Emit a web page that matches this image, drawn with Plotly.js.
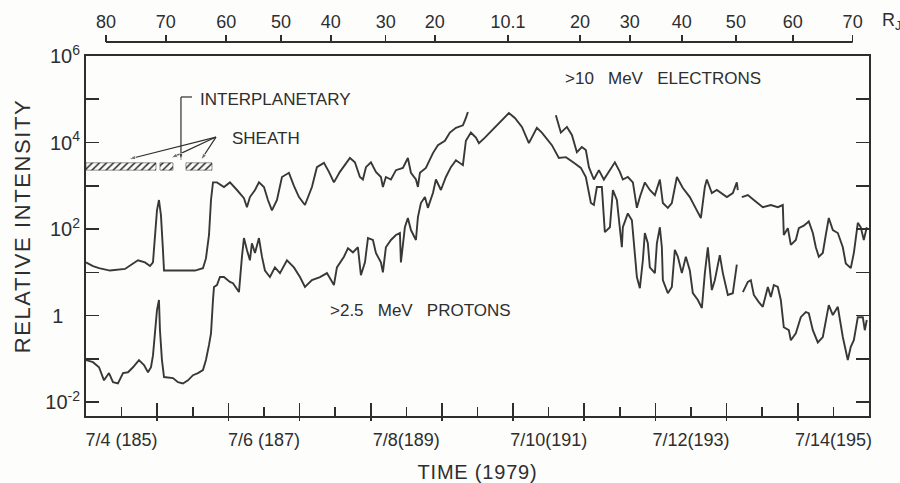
<!DOCTYPE html>
<html>
<head>
<meta charset="utf-8">
<script src="https://cdn.plot.ly/plotly-3.0.1.min.js"></script>
<style>
  html, body { margin: 0; padding: 0; background: #fdfdfc; }
  #chart { width: 900px; height: 483px; }
  text.ytitle { letter-spacing: 1.6px; translate: 0 -10px; }
  text.xtitle { letter-spacing: 0.8px; }
</style>
</head>
<body>
<div id="chart"></div>
<script>
// Time is decimal day-of-year 1979 (185.0 = 7/4 00:00).

// >10 MeV electrons (relative intensity); null marks a data gap
const electronTime = [
  185.000,185.098,185.183,185.337,185.548,185.660,185.730,185.829,185.899,185.941,
  185.969,185.997,186.025,186.053,186.081,186.096,186.320,186.531,186.643,186.685,
  186.728,186.756,186.784,186.840,186.938,187.022,187.121,187.219,187.261,187.303,
  187.374,187.430,187.500,187.556,187.612,187.683,187.753,187.851,187.921,187.992,
  188.076,188.174,188.244,188.343,188.413,188.483,188.567,188.666,188.708,188.778,
  188.848,188.890,188.933,189.003,189.073,189.143,189.171,189.213,189.284,189.354,
  189.452,189.522,189.565,189.635,189.663,189.691,189.775,189.874,189.944,190.042,
  190.112,190.197,190.295,190.337,190.365,
  191.000,
  191.601,191.671,191.756,191.826,191.896,191.966,192.022,192.065,192.135,192.205,
  192.275,192.317,192.360,192.430,192.500,192.542,192.612,192.683,192.739,192.781,
  192.851,192.921,192.992,193.062,193.104,193.174,193.230,193.301,193.385,193.483,
  193.581,193.638,193.694,193.722,193.792,193.862,194.003,194.087,194.143,194.157,
  194.185,
  194.213,194.298,194.382,194.508,194.621,194.719,194.789,194.803,194.860,194.902,
  194.972,195.014,195.084,195.154,195.211,195.253,195.295,195.351,195.393,195.435,
  195.492,195.562,195.632,195.674,195.744,195.787,195.843,195.885,195.927,195.969
];
const electronFlux = [
  1.7e1,1.4e1,1.25e1,1.1e1,1.2e1,1.6e1,1.9e1,1.7e1,1.4e1,1.7e1,
  5.6e1,2.7e2,4.7e2,2.1e2,3.3e1,1.1e1,1.1e1,1.1e1,1.25e1,2.1e1,
  7.3e1,4.7e2,1.2e3,1.2e3,9.4e2,1.2e3,8.0e2,5.2e2,3.2e2,5.5e2,
  8.0e2,1.2e3,9.4e2,4.7e2,2.7e2,4.7e2,1.6e3,2.0e3,1.0e3,5.5e2,
  3.6e2,9.4e2,2.7e3,3.4e3,2.1e3,1.2e3,2.1e3,3.5e3,4.4e3,3.5e3,
  1.6e3,1.4e3,2.7e3,3.5e3,2.1e3,1.6e3,9.4e2,1.6e3,1.4e3,2.3e3,
  2.6e3,4.4e3,2.0e3,1.4e3,9.4e2,2.0e3,2.6e3,5.7e3,8.7e3,1.1e4,
  1.7e4,2.2e4,2.5e4,3.7e4,5.1e4,
  null,
  4.3e4,1.7e4,2.3e4,1.5e4,6.0e3,7.9e3,6.7e3,2.7e3,1.4e3,2.3e3,
  1.4e3,1.8e3,2.3e3,3.5e3,2.1e3,1.4e3,1.6e3,1.2e3,3.1e2,5.5e2,
  1.2e3,8.0e2,6.1e2,1.4e3,4.0e2,3.1e2,4.0e2,1.6e3,8.9e2,5.5e2,
  2.7e2,1.8e2,9.4e2,1.4e3,6.8e2,8.0e2,5.5e2,6.8e2,1.2e3,8.0e2,
  null,
  5.5e2,6.1e2,4.7e2,3.2e2,3.6e2,3.2e2,3.6e2,7.3e1,1.05e2,4.3e1,
  5.6e1,1.05e2,1.2e2,1.5e2,8.1e1,3.8e1,2.3e1,2.8e1,7.3e1,1.8e2,
  9.5e1,8.1e1,3.8e1,1.6e1,1.25e1,2.8e1,1.4e2,1.1e2,5.6e1,1.1e2
];

// >2.5 MeV protons (relative intensity)
const protonTime = [
  185.000,185.098,185.183,185.253,185.323,185.379,185.449,185.520,185.590,185.660,
  185.744,185.815,185.871,185.913,185.941,185.969,185.997,186.025,186.039,186.067,
  186.096,186.222,186.292,186.362,186.433,186.503,186.573,186.643,186.685,186.728,
  186.756,186.784,186.798,186.840,186.882,186.938,187.022,187.065,187.149,187.191,
  187.219,187.261,187.303,187.331,187.374,187.430,187.472,187.514,187.584,187.654,
  187.725,187.823,187.921,188.006,188.076,188.174,188.287,188.385,188.483,188.525,
  188.624,188.680,188.750,188.820,188.862,188.919,188.961,189.031,189.073,189.143,
  189.171,189.213,189.284,189.354,189.410,189.424,189.480,189.522,189.565,189.635,
  189.663,189.705,189.761,189.803,189.874,189.916,189.986,190.056,190.126,190.197,
  190.295,190.337,190.407,190.478,190.520,190.604,190.674,190.744,190.815,190.885,
  190.941,191.025,191.124,191.222,191.278,191.334,191.404,191.461,191.545,191.643,
  191.742,191.854,191.952,192.022,192.093,192.135,192.177,192.247,192.289,192.360,
  192.402,192.458,192.500,192.528,192.542,192.612,192.669,192.711,192.739,192.781,
  192.823,192.851,192.893,192.921,192.992,193.020,193.062,193.090,193.104,193.174,
  193.230,193.272,193.315,193.371,193.427,193.483,193.525,193.596,193.652,193.694,
  193.736,193.792,193.834,193.904,193.947,194.017,194.087,194.143,
  194.185,
  194.228,194.298,194.340,194.382,194.452,194.508,194.579,194.621,194.663,194.719,
  194.761,194.803,194.874,194.902,194.972,195.042,195.112,195.154,195.211,195.281,
  195.351,195.393,195.435,195.492,195.562,195.632,195.702,195.744,195.787,195.843,
  195.913,195.941,195.969
];
const protonFlux = [
  0.094,0.084,0.064,0.032,0.047,0.029,0.027,0.047,0.049,0.064,
  0.094,0.072,0.049,0.064,0.12,0.35,1.34,2.3,0.46,0.094,
  0.038,0.036,0.029,0.027,0.032,0.042,0.047,0.055,0.094,0.21,
  0.39,2.3,4.6,5.1,7.8,7.8,6.0,5.6,3.5,2.3e1,
  6.2e1,3.3e1,1.9e1,4.7e1,2.8e1,6.2e1,2.3e1,1.1e1,7.8,1.3e1,
  9.6,1.9e1,1.3e1,7.8,4.6,6.6,7.8,9.6,5.1,1.3e1,
  2.3e1,3.6e1,2.9e1,3.8e1,8.6,1.7e1,6.2e1,5.6e1,2.8e1,1.7e1,
  1.0e1,3.8e1,5.6e1,7.3e1,8.1e1,1.7e1,1.1e2,1.8e2,9.5e1,5.6e1,
  1.9e2,4.0e2,5.5e2,3.1e2,6.8e2,1.4e3,8.0e2,1.6e3,2.7e3,3.9e3,
  3.0e3,1.1e4,1.7e4,1.3e4,9.7e3,1.3e4,1.7e4,2.2e4,3.0e4,3.9e4,
  4.8e4,3.7e4,2.3e4,9.7e3,1.5e4,2.2e4,1.7e4,1.3e4,8.7e3,4.4e3,
  4.6e3,3.4e3,2.6e3,1.6e3,4.0e2,3.6e2,9.4e2,9.4e2,8.5e1,1.1e2,
  8.0e2,4.7e2,8.1e1,3.8e1,1.1e2,2.3e2,1.6e2,3.3e1,7.8,4.3,
  1.9e1,8.1e1,4.7e1,1.3e1,9.6,4.7e1,1.1e2,3.8e1,6.6,3.3,
  4.6,3.3e1,2.3e1,9.6,2.3e1,1.1e1,3.3,2.3,1.5,9.6,
  3.8e1,3.9,6.6,2.5e1,9.6,3.0,3.3,1.5e1,
  null,
  3.5,6.0,6.6,3.0,2.05,1.6,4.6,2.7,5.1,4.6,
  2.3,0.54,0.46,0.27,0.39,0.92,1.2,1.14,0.46,0.24,
  0.32,0.79,1.75,1.03,1.6,0.32,0.094,0.19,0.27,0.92,
  0.92,0.46,0.79
];

// magnetosheath intervals (hatched bar) and its vertical extent
const sheathStart = [185.000, 186.039, 186.404];
const sheathEnd   = [185.983, 186.222, 186.770];
const sheathLow = 2.3e3, sheathHigh = 3.4e3;

// pointer lines from the SHEATH / INTERPLANETARY labels (tail, head pairs)
const pointerX = [186.826, 185.604, null, 186.826, 186.194, null, 186.826, 186.615, null,
                  186.489, 186.334, 186.334];
const pointerY = [1.34e4, 4.15e3, null, 1.34e4, 4.39e3, null, 1.34e4, 3.94e3, null,
                  1.13e5, 1.13e5, 3.94e3];
const pointerHead = [0, 7, 0, 0, 7, 0, 0, 7, 0, 0, 0, 7];

// bottom axis: date labels at mid-day, the other mid-days, and day boundaries
const dateLabelDays = [185.5,187.5,189.5,191.5,193.5,195.5];
const dateLabels = ['7/4 (185)','7/6 (187)','7/8(189)','7/10(191)','7/12(193)','7/14(195)'];
const otherMidDays = [186.5,188.5,190.5,192.5,194.5];
const dayTicks = [186,187,188,189,190,191,192,193,194,195];

// top axis: radial distance from Jupiter (R_J)
const rjDay = [185.28,186.12,186.97,187.74,188.44,189.21,189.90,190.93,191.94,192.64,193.37,194.13,194.93,195.77];
const rjLabel = ['80','70','60','50','40','30','20','10.1','20','30','40','50','60','70'];

// left axis: labelled decades and the unlabelled ones between
const yTickVals = [1e-2,1,1e2,1e4,1e6];
const yTickText = ['10<sup>-2</sup>','1\u00a0\u00a0\u00a0','10<sup>2</sup>','10<sup>4</sup>','10<sup>6</sup>'];
const yMinorVals = [1e-1,1e1,1e3,1e5];

const FONT = "'Liberation Sans', Arial, sans-serif";
const INK = '#2e2e2e';
const LINE = '#383838';

// hatched sheath polygons
const hx = [], hy = [];
sheathStart.forEach((s, i) => {
  hx.push(s, sheathEnd[i], sheathEnd[i], s, s, null);
  hy.push(sheathLow, sheathLow, sheathHigh, sheathHigh, sheathLow, null);
});

const traces = [
  { x: electronTime, y: electronFlux, type: 'scatter', mode: 'lines',
    line: { color: LINE, width: 1.9 }, connectgaps: false, hoverinfo: 'skip' },
  { x: protonTime, y: protonFlux, type: 'scatter', mode: 'lines',
    line: { color: LINE, width: 1.9 }, connectgaps: false, hoverinfo: 'skip' },
  { x: hx, y: hy, type: 'scatter', mode: 'lines', fill: 'toself',
    fillcolor: 'rgba(0,0,0,0)',
    fillpattern: { shape: '/', size: 5, solidity: 0.3, fgcolor: INK, bgcolor: 'rgba(0,0,0,0)' },
    line: { color: INK, width: 0.5 }, hoverinfo: 'skip' },
  { x: pointerX, y: pointerY, type: 'scatter', mode: 'lines+markers',
    line: { color: INK, width: 1.2 }, connectgaps: false,
    marker: { symbol: 'arrow', angleref: 'previous', size: pointerHead, color: INK },
    hoverinfo: 'skip' },
  // carriers for the overlay axes
  { x: [185], y: [null], xaxis: 'x2', yaxis: 'y', mode: 'markers', hoverinfo: 'skip' },
  { x: [185], y: [null], xaxis: 'x3', yaxis: 'y', mode: 'markers', hoverinfo: 'skip' },
  { x: [185], y: [null], xaxis: 'x4', yaxis: 'y', mode: 'markers', hoverinfo: 'skip' }
];

function label(x, y, text) {
  return { x: x, y: y, xref: 'x', yref: 'y', text: text, showarrow: false,
    xanchor: 'left', yanchor: 'middle', font: { family: FONT, size: 17, color: INK } };
}

const plain = { showline: false, showgrid: false, zeroline: false };

const layout = {
  width: 900, height: 483,
  margin: { l: 86, r: 31, t: 40, b: 67, autoexpand: false },
  paper_bgcolor: '#fdfdfc', plot_bgcolor: '#fdfdfc',
  showlegend: false,
  font: { family: FONT, size: 18, color: INK },
  // frame, date labels and mid-day ticks
  xaxis: {
    range: [185, 196], tickmode: 'array', tickvals: dateLabelDays, ticktext: dateLabels,
    ticks: 'inside', ticklen: 9, tickwidth: 1.6, tickcolor: INK,
    ticklabelstandoff: 6, tickfont: { family: FONT, size: 18, color: INK },
    showline: true, linewidth: 2, linecolor: INK, mirror: true,
    showgrid: false, zeroline: false,
    minor: { tickmode: 'array', tickvals: otherMidDays, ticks: 'inside', ticklen: 9,
             tickwidth: 1.6, tickcolor: INK, showgrid: false },
    title: { text: 'TIME (1979)', font: { family: FONT, size: 20, color: INK }, standoff: 18 }
  },
  // day boundaries: long ticks inside the frame
  xaxis3: Object.assign({
    overlaying: 'x', anchor: 'y', side: 'bottom', range: [185, 196],
    tickmode: 'array', tickvals: dayTicks, ticks: 'inside', ticklen: 13,
    tickwidth: 1.6, tickcolor: INK, showticklabels: false
  }, plain),
  // day boundaries: short stubs below the axis
  xaxis4: Object.assign({
    overlaying: 'x', anchor: 'y', side: 'bottom', range: [185, 196],
    tickmode: 'array', tickvals: dayTicks, ticks: 'outside', ticklen: 4,
    tickwidth: 1.6, tickcolor: INK, showticklabels: false
  }, plain),
  // distance scale above the plot
  xaxis2: Object.assign({
    overlaying: 'x', anchor: 'free', position: 0.9947, side: 'top', range: [185, 196],
    tickmode: 'array', tickvals: rjDay, ticktext: rjLabel,
    ticks: 'outside', ticklen: 7, tickwidth: 1.6, tickcolor: INK,
    tickfont: { family: FONT, size: 18, color: INK }
  }, plain),
  yaxis: {
    type: 'log', range: [-2.32, 6], domain: [0, 0.9574],
    tickmode: 'array', tickvals: yTickVals, ticktext: yTickText,
    ticks: 'inside', ticklen: 13, tickwidth: 1.6, tickcolor: INK,
    tickfont: { family: FONT, size: 20, color: INK },
    minor: { tickmode: 'array', tickvals: yMinorVals, ticks: 'inside', ticklen: 13,
             tickwidth: 1.6, tickcolor: INK, showgrid: false },
    showline: true, linewidth: 2, linecolor: INK, mirror: 'ticks',
    showgrid: false, zeroline: false,
    title: { text: 'RELATIVE INTENSITY', font: { family: FONT, size: 22, color: INK }, standoff: 9 }
  },
  shapes: [
    { type: 'line', xref: 'x', yref: 'paper', x0: rjDay[0], x1: rjDay[rjDay.length - 1],
      y0: 0.9947, y1: 0.9947, line: { color: INK, width: 2 } }
  ],
  annotations: [
    label(186.573, 5.006, 'INTERPLANETARY'),
    label(187.022, 4.104, 'SHEATH'),
    label(191.699, 5.491, '>10\u00a0\u00a0\u00a0MeV\u00a0\u00a0\u00a0ELECTRONS'),
    label(188.399, 0.127, '>2.5\u00a0\u00a0\u00a0MeV\u00a0\u00a0\u00a0PROTONS'),
    { x: 1.014, y: 1.048, xref: 'paper', yref: 'paper', text: 'R<sub>J</sub>', showarrow: false,
      xanchor: 'left', yanchor: 'middle', font: { family: FONT, size: 18, color: INK } }
  ]
};

Plotly.newPlot('chart', traces, layout, { displayModeBar: false, staticPlot: true });
</script>
</body>
</html>
